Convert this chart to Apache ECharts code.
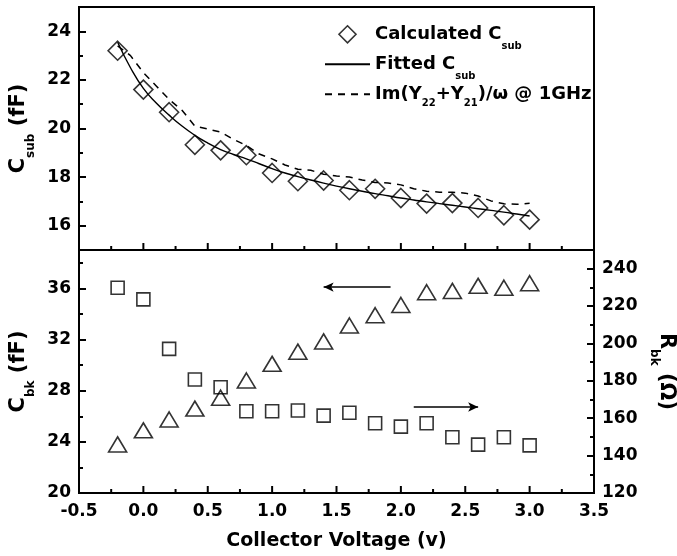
<!DOCTYPE html>
<html>
<head>
<meta charset="utf-8">
<script src="https://cdn.jsdelivr.net/npm/echarts@6/dist/echarts.min.js"></script>
<style>
  html, body { margin: 0; padding: 0; background: #fff; }
  #chart { width: 677px; height: 556px; }
</style>
</head>
<body>
<div id="chart"></div>
<script>
// measured points (collector voltage, V)
const vPoints = [-0.2, 0.0, 0.2, 0.4, 0.6, 0.8, 1.0, 1.2, 1.4, 1.6, 1.8, 2.0, 2.2, 2.4, 2.6, 2.8, 3.0]
const csubCalc = [23.2, 21.6, 20.67, 19.33, 19.1, 18.9, 18.17, 17.83, 17.86, 17.46, 17.52, 17.14, 16.91, 16.93, 16.73, 16.43, 16.25]
const cbk = [23.8, 24.9, 25.75, 26.6, 27.45, 28.8, 30.1, 31.05, 31.85, 33.1, 33.9, 34.7, 35.7, 35.8, 36.2, 36.05, 36.4]
const rbk = [229.8, 223.6, 197.1, 180.7, 176.6, 163.7, 163.7, 164.1, 161.4, 162.9, 157.3, 155.5, 157.3, 149.8, 145.9, 149.8, 145.5]

// curves sampled every 0.1 V
const vFine = [-0.2, -0.1, 0.0, 0.1, 0.2, 0.3, 0.4, 0.5, 0.6, 0.7, 0.8, 0.9, 1.0, 1.1, 1.2, 1.3, 1.4,
  1.5, 1.6, 1.7, 1.8, 1.9, 2.0, 2.1, 2.2, 2.3, 2.4, 2.5, 2.6, 2.7, 2.8, 2.9, 3.0]
const csubFit = [23.55, 22.5, 21.65, 21.05, 20.55, 20.1, 19.72, 19.4, 19.13, 18.93, 18.75, 18.55, 18.35, 18.17, 18.02, 17.88, 17.75,
  17.63, 17.52, 17.42, 17.32, 17.23, 17.14, 17.06, 16.98, 16.91, 16.84, 16.77, 16.7, 16.63, 16.56, 16.48, 16.4]
const csubIm = [23.4, 23.0, 22.3, 21.75, 21.2, 20.75, 20.1, 19.98, 19.85, 19.55, 19.3, 18.95, 18.75, 18.5, 18.32, 18.28, 18.12,
  18.05, 18.0, 17.88, 17.78, 17.76, 17.68, 17.52, 17.42, 17.38, 17.38, 17.34, 17.22, 17.02, 16.9, 16.88, 16.92]

// tick values
const xMajor = [-0.5, 0.0, 0.5, 1.0, 1.5, 2.0, 2.5, 3.0, 3.5]
const xMinor = [-0.25, 0.25, 0.75, 1.25, 1.75, 2.25, 2.75, 3.25]
const topMajor = [16, 18, 20, 22, 24]
const topMinor = [17, 19, 21, 23]
const cbkMajor = [20, 24, 28, 32, 36]
const cbkMinor = [22, 26, 30, 34, 38]
const rbkMajor = [120, 140, 160, 180, 200, 220, 240]
const rbkMinor = [130, 150, 170, 190, 210, 230]

// arrows pointing at the axis each series belongs to
const arrowLeft = [[1.92, 36.1], [1.40, 36.1]]
const arrowRight = [[2.10, 166], [2.60, 166]]

const FONT = 'DejaVu Sans'
const pair = (xs, ys) => xs.map((x, i) => [x, ys[i]])

const labelStyle = { fontFamily: FONT, fontWeight: 'bold', fontSize: 17, color: '#000' }
const tickStyle = { color: '#000', width: 2 }
const hollow = { color: 'rgba(0,0,0,0)', borderColor: '#000', borderWidth: 1.6 }
const nameRich = {
  m: { fontFamily: FONT, fontWeight: 'bold', fontSize: 21, color: '#000' },
  s: { fontFamily: FONT, fontWeight: 'bold', fontSize: 12, color: '#000', padding: [12, 0, -12, 0] }
}

// y axis with long ticks and labels
function majorAxis(grid, min, max, ticks, pos, extra) {
  return Object.assign({
    type: 'value', gridIndex: grid, min: min, max: max, position: pos,
    axisLine: { show: false, onZero: false },
    axisTick: { show: true, inside: true, length: 7, lineStyle: tickStyle, customValues: ticks },
    axisLabel: Object.assign({ customValues: ticks, margin: 8 }, labelStyle),
    splitLine: { show: false }
  }, extra || {})
}
// overlay y axis carrying only the short ticks
function minorAxis(grid, min, max, ticks, pos) {
  return {
    type: 'value', gridIndex: grid, min: min, max: max, position: pos,
    axisLine: { show: false, onZero: false },
    axisTick: { show: true, inside: true, length: 4, lineStyle: tickStyle, customValues: ticks },
    axisLabel: { show: false },
    splitLine: { show: false }
  }
}

// x ticks drawn through the axis scale, pointing up from the bottom edge
function xTicks(xIdx, yIdx, yBase, values, len) {
  return {
    type: 'custom', xAxisIndex: xIdx, yAxisIndex: yIdx, silent: true, clip: false, z: 5,
    data: values.map(v => [v, yBase]),
    renderItem: function (params, api) {
      const p = api.coord([api.value(0), api.value(1)])
      return {
        type: 'line',
        shape: { x1: p[0], y1: p[1], x2: p[0], y2: p[1] - len },
        style: { stroke: '#000', lineWidth: 2 }
      }
    }
  }
}

const chart = echarts.init(document.getElementById('chart'))

chart.setOption({
  animation: false,
  backgroundColor: '#fff',
  grid: [
    { left: 79, top: 7, width: 515, height: 243, show: true, borderColor: '#000', borderWidth: 2, outerBoundsMode: 'none' },
    { left: 79, top: 250, width: 515, height: 243, show: true, borderColor: '#000', borderWidth: 2, outerBoundsMode: 'none' }
  ],
  legend: {
    orient: 'vertical',
    left: 319,
    top: 20,
    itemWidth: 45,
    itemHeight: 17,
    itemGap: 4,
    data: [
      { name: 'Calculated', icon: 'path://M10,0L20,10L10,20L0,10Z', itemStyle: hollow },
      'Fitted',
      'Im'
    ],
    formatter: function (name) {
      if (name === 'Calculated') return '{m|Calculated C}{s|sub}'
      if (name === 'Fitted') return '{m|Fitted C}{s|sub}'
      return '{m|Im(Y}{d|22}{m|+Y}{d|21}{m|)/ω @ 1GHz}'
    },
    textStyle: {
      rich: {
        m: { fontFamily: FONT, fontWeight: 'bold', fontSize: 18, color: '#000', lineHeight: 20 },
        s: { fontFamily: FONT, fontWeight: 'bold', fontSize: 10, color: '#000', padding: [12, 0, -12, 0] },
        d: { fontFamily: FONT, fontWeight: 'bold', fontSize: 10, color: '#000', padding: [9, 0, -9, 0] }
      }
    }
  },
  xAxis: [
    {
      type: 'value', gridIndex: 0, min: -0.5, max: 3.5, interval: 0.5,
      axisLine: { show: false, onZero: false },
      axisTick: { show: false },
      axisLabel: { show: false },
      splitLine: { show: false }
    },
    {
      type: 'value', gridIndex: 1, min: -0.5, max: 3.5, interval: 0.5,
      axisLine: { show: false, onZero: false },
      axisTick: { show: false },
      axisLabel: Object.assign({ margin: 10, formatter: v => v.toFixed(1) }, labelStyle),
      splitLine: { show: false },
      name: 'Collector Voltage (v)',
      nameLocation: 'middle',
      nameGap: 39,
      nameTextStyle: { fontFamily: FONT, fontWeight: 'bold', fontSize: 19, color: '#000' }
    }
  ],
  yAxis: [
    majorAxis(0, 15, 25, topMajor, 'left', {
      name: '{m|C}{s|sub}{m| (fF)}', nameLocation: 'middle', nameRotate: 90, nameGap: 48,
      nameTextStyle: { rich: nameRich }
    }),
    minorAxis(0, 15, 25, topMinor, 'left'),
    majorAxis(1, 20, 39, cbkMajor, 'left', {
      name: '{m|C}{s|bk}{m| (fF)}', nameLocation: 'middle', nameRotate: 90, nameGap: 48,
      nameTextStyle: { rich: nameRich }
    }),
    minorAxis(1, 20, 39, cbkMinor, 'left'),
    majorAxis(1, 120, 250, rbkMajor, 'right', {
      name: '{m|R}{s|bk}{m| (Ω)}', nameLocation: 'middle', nameRotate: -90, nameGap: 54,
      nameTextStyle: { rich: nameRich }
    }),
    minorAxis(1, 120, 250, rbkMinor, 'right')
  ],
  series: [
    {
      name: 'Im', type: 'line', xAxisIndex: 0, yAxisIndex: 0,
      data: pair(vFine, csubIm), symbol: 'none',
      itemStyle: { color: 'rgba(0,0,0,0)', borderWidth: 0 },
      lineStyle: { color: '#000', width: 1.5, type: [7, 6] }
    },
    {
      name: 'Fitted', type: 'line', xAxisIndex: 0, yAxisIndex: 0,
      data: pair(vFine, csubFit), symbol: 'none', smooth: true,
      itemStyle: { color: 'rgba(0,0,0,0)', borderWidth: 0 },
      lineStyle: { color: '#000', width: 1.4 }
    },
    {
      name: 'Calculated', type: 'scatter', xAxisIndex: 0, yAxisIndex: 0,
      data: pair(vPoints, csubCalc), symbol: 'diamond', symbolSize: 19,
      itemStyle: hollow
    },
    {
      name: 'Cbk', type: 'scatter', xAxisIndex: 1, yAxisIndex: 2,
      data: pair(vPoints, cbk), symbol: 'triangle', symbolSize: [18, 15],
      itemStyle: hollow,
      markLine: {
        silent: true, symbol: ['none', 'arrow'], symbolSize: [7, 10],
        label: { show: false },
        lineStyle: { color: '#000', width: 1.5, type: 'solid' },
        data: [[{ coord: arrowLeft[0] }, { coord: arrowLeft[1] }]]
      }
    },
    {
      name: 'Rbk', type: 'scatter', xAxisIndex: 1, yAxisIndex: 4,
      data: pair(vPoints, rbk), symbol: 'rect', symbolSize: 13,
      itemStyle: hollow,
      markLine: {
        silent: true, symbol: ['none', 'arrow'], symbolSize: [7, 10],
        label: { show: false },
        lineStyle: { color: '#000', width: 1.5, type: 'solid' },
        data: [[{ coord: arrowRight[0] }, { coord: arrowRight[1] }]]
      }
    },
    xTicks(0, 0, 15, xMajor, 7),
    xTicks(0, 0, 15, xMinor, 4),
    xTicks(1, 2, 20, xMajor, 7),
    xTicks(1, 2, 20, xMinor, 4)
  ]
})
</script>
</body>
</html>
